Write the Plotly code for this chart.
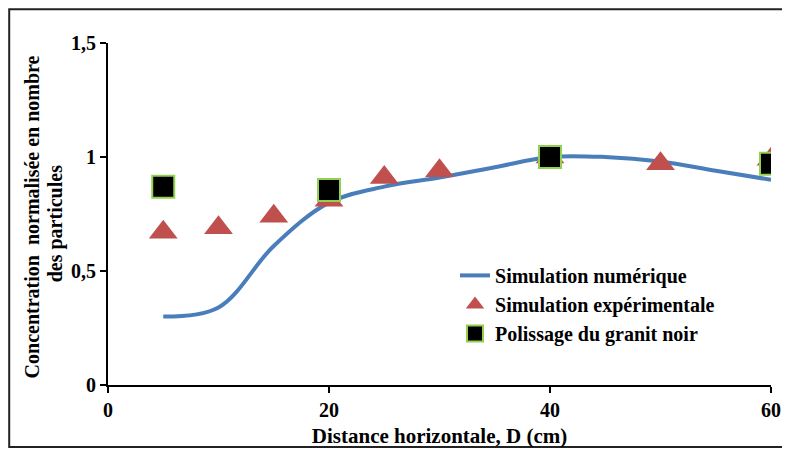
import plotly.graph_objects as go

# numerical simulation
sim_x = [5, 10, 15, 20, 25, 30, 35, 40, 45, 50, 55, 60]
sim_y = [0.30, 0.34, 0.61, 0.80, 0.87, 0.91, 0.955, 1.0, 1.0, 0.98, 0.94, 0.90]

# experimental simulation (triangles)
exp_x = [5, 10, 15, 20, 25, 30, 40, 50, 60]
exp_y = [0.67, 0.69, 0.74, 0.81, 0.91, 0.94, 1.0, 0.97, 0.99]

# black granite polishing (squares)
gra_x = [5, 20, 40, 60]
gra_y = [0.87, 0.855, 1.0, 0.97]

font = "Liberation Serif, Times New Roman, serif"

fig = go.Figure()
fig.add_trace(go.Scatter(x=sim_x, y=sim_y, mode="lines", name="Simulation numérique",
                         line=dict(color="#4A7EBB", width=4, shape="spline", smoothing=1.0)))
fig.add_trace(go.Scatter(x=exp_x, y=exp_y, mode="markers", name="Simulation expérimentale",
                         marker=dict(symbol="triangle-up", size=25, color="#C0504D")))
fig.add_trace(go.Scatter(x=gra_x, y=gra_y, mode="markers", name="Polissage du granit noir",
                         marker=dict(symbol="square", size=22, color="black",
                                     line=dict(color="#92D050", width=2))))

# y axis title, two lines placed separately
ytitle = [
    dict(text="Concentration  normalisée en nombre", x=-0.1146, y=0.49),
    dict(text="des particules", x=-0.0799, y=0.47),
]

fig.update_layout(
    width=774, height=440,
    margin=dict(l=100, r=11, t=35, b=63, autoexpand=False),
    plot_bgcolor="white", paper_bgcolor="white",
    font=dict(family=font, size=16, color="black"),
    showlegend=True,
    legend=dict(x=0.5234, y=0.3775, xanchor="left", yanchor="top", bgcolor="rgba(0,0,0,0)",
                font=dict(family=font, size=20, color="black", weight="bold"), tracegroupgap=0,
                itemwidth=30),
    shapes=[dict(type="rect", xref="paper", yref="paper", x0=-0.149, x1=1.05, y0=-0.181, y1=1.099,
                 line=dict(color="#222222", width=2), layer="below")],
    annotations=[dict(text=a["text"], x=a["x"], y=a["y"], xref="paper", yref="paper",
                      xanchor="center", yanchor="middle", textangle=-90, showarrow=False,
                      font=dict(family=font, size=20, weight="bold", color="black"))
                 for a in ytitle],
)
fig.update_xaxes(range=[0, 60], tickvals=[0, 20, 40, 60], ticktext=["0", "20", "40", "60"],
                 showline=True, linecolor="black", linewidth=2, ticks="outside", ticklen=6,
                 tickwidth=2, tickcolor="black", showgrid=False, zeroline=False, automargin=False,
                 tickfont=dict(family=font, size=20, weight="bold"),
                 title=dict(text="Distance horizontale, D (cm)",
                            font=dict(family=font, size=21, weight="bold")))
fig.update_yaxes(range=[0, 1.5], tickvals=[0, 0.5, 1, 1.5], ticktext=["0", "0,5", "1", "1,5"],
                 showline=True, linecolor="black", linewidth=2, ticks="outside", ticklen=6,
                 tickwidth=2, tickcolor="black", showgrid=False, zeroline=False, automargin=False,
                 tickfont=dict(family=font, size=20, weight="bold"))

fig.write_html("out.html")
